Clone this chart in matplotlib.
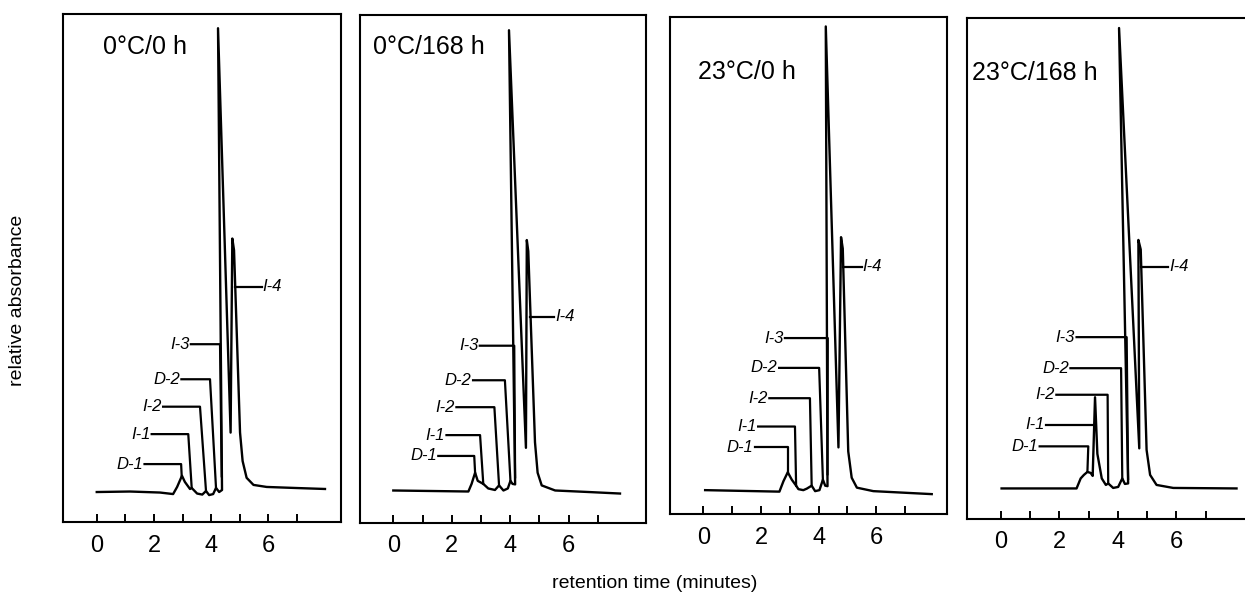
import matplotlib
matplotlib.use("Agg")
import matplotlib.pyplot as plt

plt.rcParams["font.family"] = ["Liberation Sans", "DejaVu Sans"]

# panel titles
titles = ["0°C/0 h", "0°C/168 h", "23°C/0 h", "23°C/168 h"]

# chromatogram traces: time (min), relative absorbance (0-100 of frame)
time_0c_0h = [0.00, 1.16, 2.21, 2.67, 2.81, 2.91, 2.98, 3.08, 3.26, 3.32, 3.51, 3.69, 3.82,
              3.93, 4.07, 4.17, 4.28, 4.38, 4.24, 4.68, 4.74, 4.80, 5.01, 5.10, 5.24, 5.48,
              5.94, 6.93, 7.98]
absb_0c_0h = [5.9, 6.0, 5.8, 5.5, 6.9, 8.2, 9.1, 7.9, 6.5, 6.7, 5.6, 5.4, 6.1,
              5.3, 5.5, 6.7, 5.9, 6.3, 97.2, 17.6, 55.8, 53.5, 17.6, 12.0, 8.7, 7.3,
              6.9, 6.7, 6.5]

time_0c_168h = [0.00, 2.57, 2.68, 2.80, 2.89, 3.08, 3.25, 3.48, 3.62, 3.77, 3.92, 4.01,
                4.08, 4.17, 3.96, 4.54, 4.57, 4.62, 4.85, 4.94, 5.08, 5.54, 6.68, 7.76]
absb_0c_168h = [6.4, 6.2, 7.7, 9.9, 8.3, 7.7, 6.8, 6.5, 7.4, 6.4, 6.8, 8.3,
                7.7, 7.6, 97.0, 14.8, 55.7, 53.5, 15.9, 9.9, 7.4, 6.4, 6.1, 5.8]

time_23c_0h = [0.06, 2.64, 2.78, 2.93, 3.07, 3.22, 3.30, 3.47, 3.59, 3.76, 3.88, 4.03,
               4.15, 4.23, 4.31, 4.25, 4.69, 4.78, 4.84, 5.03, 5.15, 5.33, 5.90, 7.93]
absb_23c_0h = [4.8, 4.5, 6.6, 8.4, 6.9, 5.7, 5.0, 4.8, 5.1, 5.7, 4.6, 4.8,
               6.9, 5.7, 5.6, 98.1, 13.4, 55.7, 53.4, 12.6, 7.3, 5.3, 4.6, 4.0]

time_23c_168h = [0.03, 2.59, 2.73, 2.84, 2.96, 3.07, 3.14, 3.22, 3.30, 3.45, 3.59, 3.67,
                 3.84, 4.01, 4.15, 4.24, 4.35, 4.04, 4.73, 4.70, 4.78, 4.98, 5.10, 5.32,
                 5.89, 8.05]
absb_23c_168h = [6.1, 6.1, 8.1, 8.8, 9.4, 9.2, 8.6, 24.3, 13.0, 8.1, 6.8, 7.1,
                 6.2, 6.4, 8.1, 7.0, 7.1, 98.0, 14.1, 55.7, 53.8, 13.8, 8.8, 6.8,
                 6.2, 6.1]

# peak labels (left side, then I-4 on the right)
peak_names = ["D-1", "I-1", "I-2", "D-2", "I-3"]
# label height, end of label text, bend of leader, leader tip (time, absorbance)
label_y = [[11.4, 17.3, 22.7, 28.1, 35.0],
           [13.2, 17.3, 22.8, 28.1, 34.9],
           [13.4, 17.6, 23.3, 29.4, 35.4],
           [14.5, 18.8, 24.8, 30.1, 36.3]]
label_end = [[1.62, 1.87, 2.27, 2.91, 3.24],
             [1.49, 1.77, 2.11, 2.68, 2.91],
             [1.74, 1.85, 2.24, 2.58, 2.78],
             [1.28, 1.51, 1.85, 2.33, 2.54]]
bend_t = [[2.95, 3.20, 3.61, 3.96, 4.31],
          [2.77, 2.97, 3.46, 3.82, 4.14],
          [2.93, 3.18, 3.70, 4.02, 4.32],
          [2.99, 3.22, 3.65, 4.11, 4.30]]
tip_t = [[2.97, 3.32, 3.82, 4.17, 4.37],
         [2.80, 3.08, 3.62, 4.01, 4.17],
         [2.93, 3.22, 3.76, 4.15, 4.31],
         [2.96, 3.22, 3.67, 4.15, 4.35]]
tip_y = [[9.1, 6.7, 6.1, 6.7, 9.0],
         [9.9, 7.7, 7.4, 8.3, 9.0],
         [8.4, 5.7, 5.7, 6.9, 8.0],
         [9.4, 18.8, 7.1, 8.1, 8.0]]
# I-4 label: height, leader start, leader end
i4_y = [46.3, 40.6, 49.7, 50.3]
i4_start = [4.82, 4.69, 4.86, 4.80]
i4_end = [5.77, 5.51, 5.50, 5.72]

# title anchor (time, absorbance)
title_x = [0.23, -0.70, -0.18, -0.98]
title_y = [93.5, 93.7, 88.9, 89.0]

traces = [(time_0c_0h, absb_0c_0h), (time_0c_168h, absb_0c_168h),
          (time_23c_0h, absb_23c_0h), (time_23c_168h, absb_23c_168h)]

W, H = 1245, 599
# frame edges in pixels: left, right, top, bottom
frames = [(63, 341, 14, 522), (360, 646, 15, 523), (670, 947, 17, 514), (967, 1250, 18, 519)]
xlims = [(-1.18, 8.54), (-1.14, 8.65), (-1.16, 8.46), (-1.15, 8.51)]

fig = plt.figure(figsize=(W / 100, H / 100), dpi=100)

for i in range(4):
    l, r, t, b = frames[i]
    ax = fig.add_axes([l / W, (H - b) / H, (r - l) / W, (b - t) / H])
    tx, ty = traces[i]
    ax.plot(tx, ty, color="black", linewidth=1.7, solid_joinstyle="round")

    for k, name in enumerate(peak_names):
        xs = [label_end[i][k] + 0.05, bend_t[i][k], tip_t[i][k]]
        ys = [label_y[i][k], label_y[i][k], tip_y[i][k]]
        ax.plot(xs, ys, color="black", linewidth=1.6)
        ax.text(label_end[i][k], label_y[i][k], name, ha="right", va="center",
                fontsize=12, style="italic")
    ax.plot([i4_start[i], i4_end[i]], [i4_y[i], i4_y[i]], color="black", linewidth=1.6)
    ax.text(i4_end[i] + 0.03, i4_y[i], "I-4", ha="left", va="center",
            fontsize=12, style="italic")

    ax.text(title_x[i], title_y[i], titles[i], ha="left", va="center", fontsize=18)

    ax.set_xlim(*xlims[i])
    ax.set_ylim(0, 100)
    ax.set_xticks([0, 2, 4, 6])
    ax.set_xticks([1, 3, 5, 7], minor=True)
    ax.set_yticks([])
    ax.tick_params(axis="x", which="both", direction="in", length=6, width=1.4,
                   labelsize=17, pad=9)
    for s in ax.spines.values():
        s.set_linewidth(1.5)

fig.text(18 / W, 1 - 300 / H, "relative absorbance", rotation=90, ha="center",
         va="center", fontsize=14)
fig.text(655 / W, 1 - 583 / H, "retention time (minutes)", ha="center", va="center",
         fontsize=14)

fig.savefig("out.png", dpi=100)
